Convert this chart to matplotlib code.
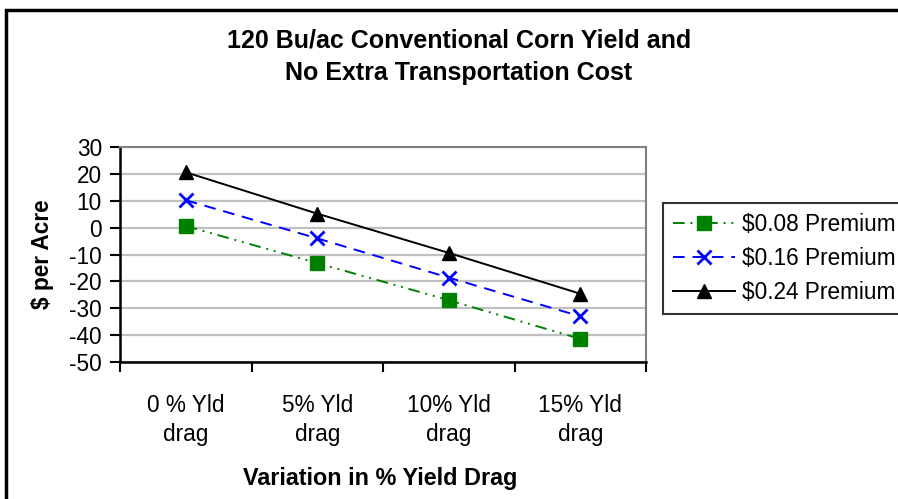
import matplotlib.pyplot as plt
from matplotlib.patches import Rectangle

plt.rcParams['font.family'] = ['Liberation Sans', 'DejaVu Sans']

categories = ['0 % Yld\ndrag', '5% Yld\ndrag', '10% Yld\ndrag', '15% Yld\ndrag']
premium_08 = [0.6, -13.2, -27.0, -41.4]
premium_16 = [10.2, -4.0, -18.6, -33.0]
premium_24 = [20.6, 5.2, -9.4, -24.6]
yticks = list(range(-50, 31, 10))

W, H = 898, 499
FS = 16.3
fig = plt.figure(figsize=(W / 100, H / 100), dpi=100)
ax = fig.add_axes([120 / W, 1 - 362 / H, (646 - 120) / W, (362 - 147) / H])

# outer chart frame, runs off the right and bottom edges
fig.patches.append(Rectangle((6 / W, -0.1), 1.2, 1 - 10 / H + 0.1,
                             transform=fig.transFigure, fill=False,
                             edgecolor='black', linewidth=2.5, zorder=0))

x = range(len(categories))
ax.plot(x, premium_08, color='#008000', linestyle=(0, (6, 3, 1, 3, 1, 3)),
        linewidth=1.4, marker='s', markersize=9.5, label='$0.08 Premium')
ax.plot(x, premium_16, color='#0000ff', linestyle=(0, (6, 4)),
        linewidth=1.4, marker='x', markersize=10, markeredgewidth=2,
        label='$0.16 Premium')
ax.plot(x, premium_24, color='black', linestyle='-', linewidth=1.4,
        marker='^', markersize=9.5, label='$0.24 Premium')

ax.set_xlim(-0.5, len(categories) - 0.5)
ax.set_ylim(-50, 30)
ax.set_yticks(yticks)
ax.set_yticklabels([str(v) for v in yticks], fontsize=FS)
ax.yaxis.grid(True, color='#c0c0c0', linewidth=1.6)
ax.set_axisbelow(True)

# category boundaries get the tick marks, names sit between them
ax.set_xticks([i + 0.5 for i in range(-1, len(categories))], minor=False)
ax.set_xticklabels([])
ax.set_xticks(list(x), minor=True)
ax.set_xticklabels(categories, minor=True, fontsize=FS, linespacing=1.35)
ax.tick_params(axis='x', which='major', direction='out', length=7, width=1.5)
ax.tick_params(axis='x', which='minor', length=0, pad=23)
ax.tick_params(axis='y', direction='out', length=7, width=1.5, pad=6)

for side in ('left', 'bottom'):
    ax.spines[side].set_linewidth(1.8)
for side in ('top', 'right'):
    ax.spines[side].set_color('#808080')
    ax.spines[side].set_linewidth(1.5)

fig.text(42 / W, 1 - 254 / H, '$ per Acre', rotation=90, ha='center',
         va='center', fontsize=FS, fontweight='bold')
fig.text(380 / W, 1 - 478 / H, 'Variation in % Yield Drag', ha='center',
         va='center', fontsize=16.8, fontweight='bold')

fig.text(459 / W, 1 - 57 / H,
         '120 Bu/ac Conventional Corn Yield and\nNo Extra Transportation Cost',
         ha='center', va='center', fontsize=18, fontweight='bold',
         linespacing=1.45)

leg = fig.legend(loc='upper left', bbox_to_anchor=(663 / W, 1 - 203 / H),
                 fontsize=FS, frameon=True, fancybox=False, handlelength=2.75,
                 handletextpad=0.3, borderpad=0.45, labelspacing=0.48,
                 borderaxespad=0)
leg.get_frame().set_edgecolor('black')
leg.get_frame().set_linewidth(1.5)

fig.savefig('out.png', dpi=100)
